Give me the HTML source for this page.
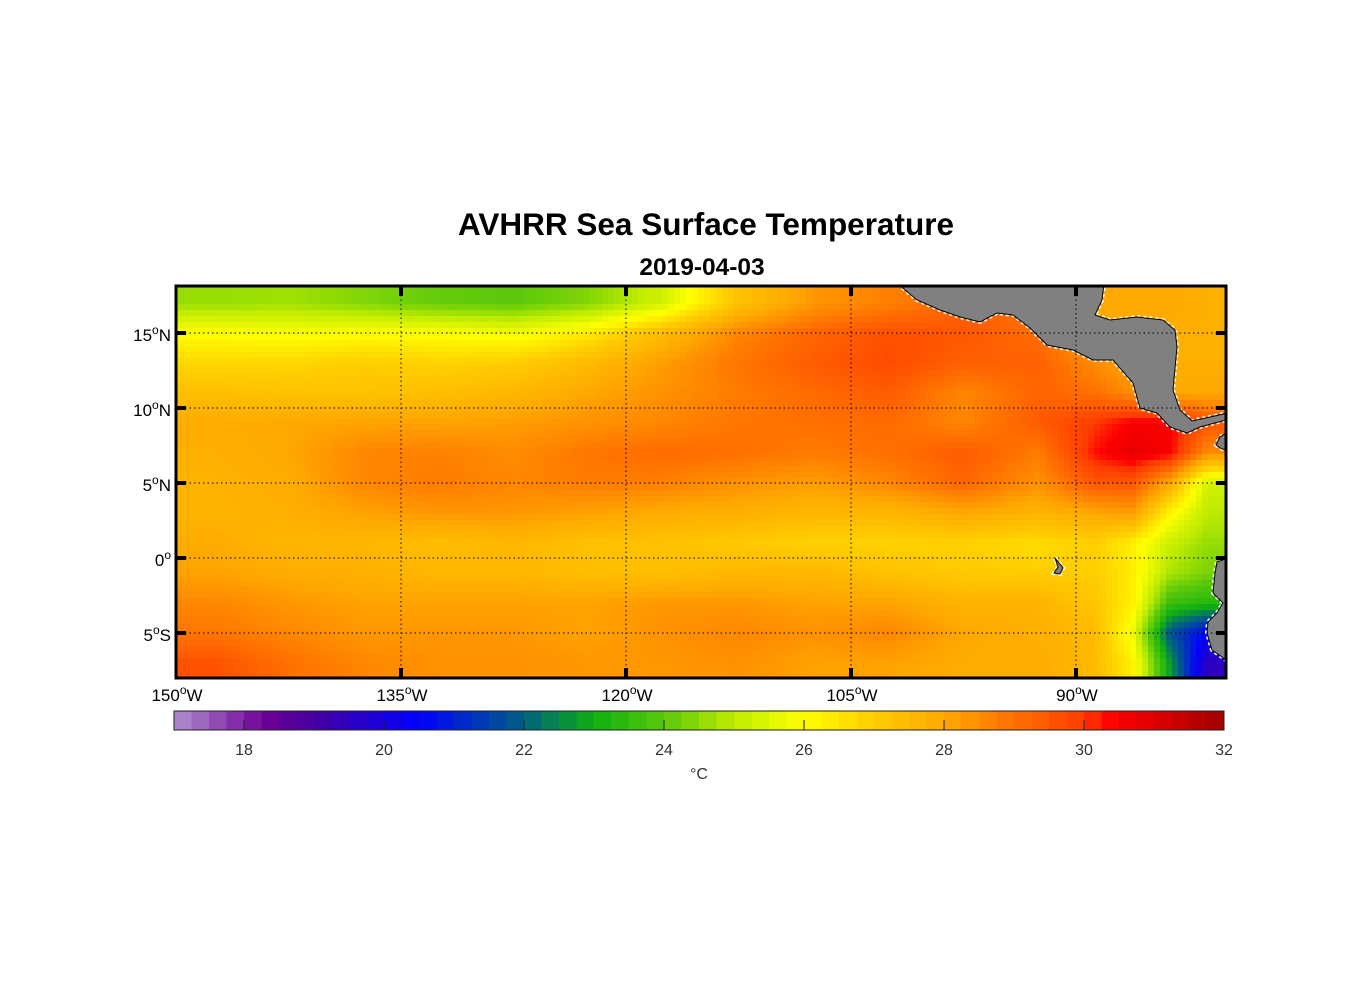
<!DOCTYPE html>
<html><head><meta charset="utf-8"><style>
body{margin:0;background:#fff;width:1356px;height:1000px;overflow:hidden;font-family:"Liberation Sans",Arial,sans-serif}
</style></head><body>
<svg id="chart" width="1356" height="1000" xmlns="http://www.w3.org/2000/svg" font-family="Liberation Sans, Arial, sans-serif">
<defs>
<clipPath id="mapclip"><rect x="176" y="286" width="1050" height="392"/></clipPath>
</defs>
<text x="706" y="235" text-anchor="middle" font-size="31.5" font-weight="bold">AVHRR Sea Surface Temperature</text>
<text x="702" y="275" text-anchor="middle" font-size="24.5" font-weight="bold">2019-04-03</text>
<g id="map" clip-path="url(#mapclip)"><g id="cells" shape-rendering="crispEdges"></g><g id="land"></g></g>
<g id="grid"></g>
<rect x="176" y="286" width="1050" height="392" fill="none" stroke="#000" stroke-width="3"/>
<g id="axes"></g>
<g id="cbar"></g>
<text x="699" y="779" text-anchor="middle" font-size="16" fill="#333">°C</text>
</svg>
<script>
const lonCenters=[-147.5,-142.5,-137.5,-132.5,-127.5,-122.5,-117.5,-112.5,-107.5,-102.5,-97.5,-92.5,-88.75,-86.25,-83.75,-81.25];
const latCenters=[17,15,13,11,9,7,5,3,1,-1,-3,-5,-7];
const sst=[
[24.6,24.7,24.4,24.1,24,24.4,25.3,27.3,28.3,28.7,29.2,29,28,28,28,27.8],
[26,25.9,26,26,25.8,26.4,27.5,28.6,29.2,29.6,29.5,29,28,28,27.8,27.8],
[26.8,26.8,27,26.9,27,27.5,28.2,28.9,29.4,29.7,29.3,29.3,28.5,28,27.8,27.8],
[27.4,27.3,27.3,27.4,27.6,28,28.4,28.8,29.1,29.4,28.6,29.2,29,28.5,28,28],
[27.9,28,28.1,28.1,28.2,28.4,28.6,28.9,29,29.1,28.6,29.4,30,30.5,30.5,29.5],
[27.8,28,28.6,28.7,28.5,28.9,29.1,29,28.8,29,29.4,28.8,30.3,30.8,30.5,28.5],
[27.7,27.9,28.6,28.8,28.6,28.8,28.7,28.4,28.2,28.6,29.2,28.4,29.5,29.5,28,25.3],
[27.7,27.8,28.1,28.3,28.3,28.1,27.9,27.8,27.6,27.6,28,27.7,28,28.2,26.2,25],
[27.9,27.6,27.6,27.4,27.6,27.3,27.3,27.1,26.9,26.9,26.9,26.7,27,26.3,25.2,24.6],
[28.1,27.9,27.8,27.6,27.6,27.4,27.4,27.6,27.6,27.3,27.1,27,27,26.4,24.8,24.3],
[28.6,28.3,28.1,28.1,28.1,28.1,28.3,28.3,28.1,28.1,27.7,27.7,27.2,26.3,23.6,23.3],
[28.9,28.6,28.3,28.3,28.3,28.1,28.4,28.6,28.4,28.6,28,27.8,27.5,25.8,21.8,20.5],
[29.6,29,28.6,28.4,28.4,28.3,28.3,28.4,28.1,28.1,27.9,27.9,27.5,26.3,22.8,19.5]];
const lonTicks=[-150,-135,-120,-105,-90];
const lonLabels=["150","135","120","105","90"];
const latTicks=[15,10,5,0,-5];
const latLabels=["15","10","5","0","5"];
const latSuffix=["N","N","N","","S"];
const cbTicks=[18,20,22,24,26,28,30,32];

const X=lon=>176+(lon+150)*15;
const Y=lat=>558-lat*15;
const CX=v=>174+(v-17)*70;
const NS="http://www.w3.org/2000/svg";
function mk(t,a,p){const e=document.createElementNS(NS,t);for(const k in a)e.setAttribute(k,a[k]);p.appendChild(e);return e;}
const stops=[[17,[176,144,208]],[18.3,[110,0,150]],[19,[70,0,160]],[20.5,[0,0,255]],[22,[0,96,128]],[23,[16,176,16]],[24,[90,200,10]],[25,[190,235,0]],[26,[255,255,0]],[27,[255,205,0]],[28,[255,168,0]],[29,[255,112,0]],[30,[255,60,0]],[30.4,[255,0,0]],[31.2,[210,0,0]],[32,[160,0,0]]];
function color(v){v=Math.max(17,Math.min(32,v));
 for(let i=0;i<stops.length-1;i++){const a=stops[i],b=stops[i+1];if(v<=b[0]){const t=(v-a[0])/(b[0]-a[0]);const c=a[1].map((x,j)=>Math.round(x+(b[1][j]-x)*t));return `rgb(${c})`;}}
 return "rgb(160,0,0)";}
function seg(arr,v,desc){
 const n=arr.length;
 if(!desc){ if(v<=arr[0])return[0,0]; if(v>=arr[n-1])return[n-2,1];
  for(let i=0;i<n-1;i++) if(v<=arr[i+1]) return [i,(v-arr[i])/(arr[i+1]-arr[i])]; }
 else { if(v>=arr[0])return[0,0]; if(v<=arr[n-1])return[n-2,1];
  for(let i=0;i<n-1;i++) if(v>=arr[i+1]) return [i,(arr[i]-v)/(arr[i]-arr[i+1])]; }
}
function sample(lon,lat){
 const [c,tx]=seg(lonCenters,lon,false),[r,ty]=seg(latCenters,lat,true);
 const a=sst[r][c],b=sst[r][c+1],d=sst[r+1][c],e=sst[r+1][c+1];
 return (a*(1-tx)+b*tx)*(1-ty)+(d*(1-tx)+e*tx)*ty;
}
const cells=document.getElementById('cells');
const step=6;
for(let y=286;y<678;y+=step){
 for(let x=176;x<1226;x+=step){
  const lon=-150+(x+step/2-176)/15, lat=(558-(y+step/2))/15;
  const e=mk('rect',{x:x,y:y,width:step,height:step,fill:color(sample(lon,lat))},cells);
  
  
 }
}
const land=document.getElementById('land');
const polys=[
 ["land-central-america","898,284 917,300 940,310 960,317 980,322 997,313 1013,315 1030,328 1047,345 1073,350 1093,360 1113,360 1133,383 1140,408 1157,413 1170,427 1187,433 1200,427 1226,420 1228,420 1228,413 1210,417 1192,421 1180,410 1173,390 1177,347 1175,330 1163,320 1137,317 1110,320 1095,315 1102,300 1104,284"],
 ["land-panama-tip","1228,432 1220,437 1216,445 1222,449 1228,450"],
 ["land-south-america","1228,558 1217,562 1215,573 1213,593 1223,603 1217,613 1208,622 1207,633 1212,650 1222,657 1228,662"],
 ["land-galapagos","1055,558 1063,568 1060,574 1054,573 1058,567"]];
polys.forEach(p=>{
 mk('polygon',{points:p[1],fill:'none',stroke:'#fff','stroke-width':4,'stroke-dasharray':'3 3'},land);
 const e=mk('polygon',{points:p[1],fill:'#808080',stroke:'#000','stroke-width':1},land);
 
 
});
const grid=document.getElementById('grid'),axes=document.getElementById('axes');
lonTicks.forEach((l,i)=>{
 const x=X(l);
 if(i>0){const g=mk('line',{x1:x,x2:x,y1:286,y2:678,stroke:'#000','stroke-width':1,'stroke-dasharray':'1.5 3'},grid);
 
 mk('line',{x1:x,x2:x,y1:286,y2:296,stroke:'#000','stroke-width':4},axes);
 mk('line',{x1:x,x2:x,y1:668,y2:678,stroke:'#000','stroke-width':4},axes);}
 const t=mk('text',{x:x+1,y:701,'text-anchor':'middle','font-size':17},axes);
 
 t.innerHTML=lonLabels[i]+'<tspan dy="-7" font-size="12">o</tspan><tspan dy="7">W</tspan>';
});
latTicks.forEach((l,i)=>{
 const y=Y(l);
 const g=mk('line',{x1:176,x2:1226,y1:y,y2:y,stroke:'#000','stroke-width':1,'stroke-dasharray':'1.5 3'},grid);
 
 mk('line',{x1:176,x2:186,y1:y,y2:y,stroke:'#000','stroke-width':4},axes);
 mk('line',{x1:1216,x2:1226,y1:y,y2:y,stroke:'#000','stroke-width':4},axes);
 const t=mk('text',{x:171,y:y+8,'text-anchor':'end','font-size':17},axes);
 
 t.innerHTML=latLabels[i]+'<tspan dy="-7" font-size="12">o</tspan><tspan dy="7">'+latSuffix[i]+'</tspan>';
});
const cb=document.getElementById('cbar');
for(let v=17;v<32;v+=0.25){
 const e=mk('rect',{x:CX(v),y:711,width:17.5+0.4,height:19,fill:color(v+0.125)},cb);
 
 
}
const fr=mk('rect',{x:174,y:711,width:1050,height:19,fill:'none',stroke:'#222','stroke-width':1},cb);

cbTicks.forEach(v=>{
 mk('line',{x1:CX(v),x2:CX(v),y1:720,y2:730,stroke:'#222','stroke-width':1},cb);
 const t=mk('text',{x:CX(v),y:755,'text-anchor':'middle','font-size':16,fill:'#333'},cb);
 
 t.textContent=v;
});
</script>
</body></html>
